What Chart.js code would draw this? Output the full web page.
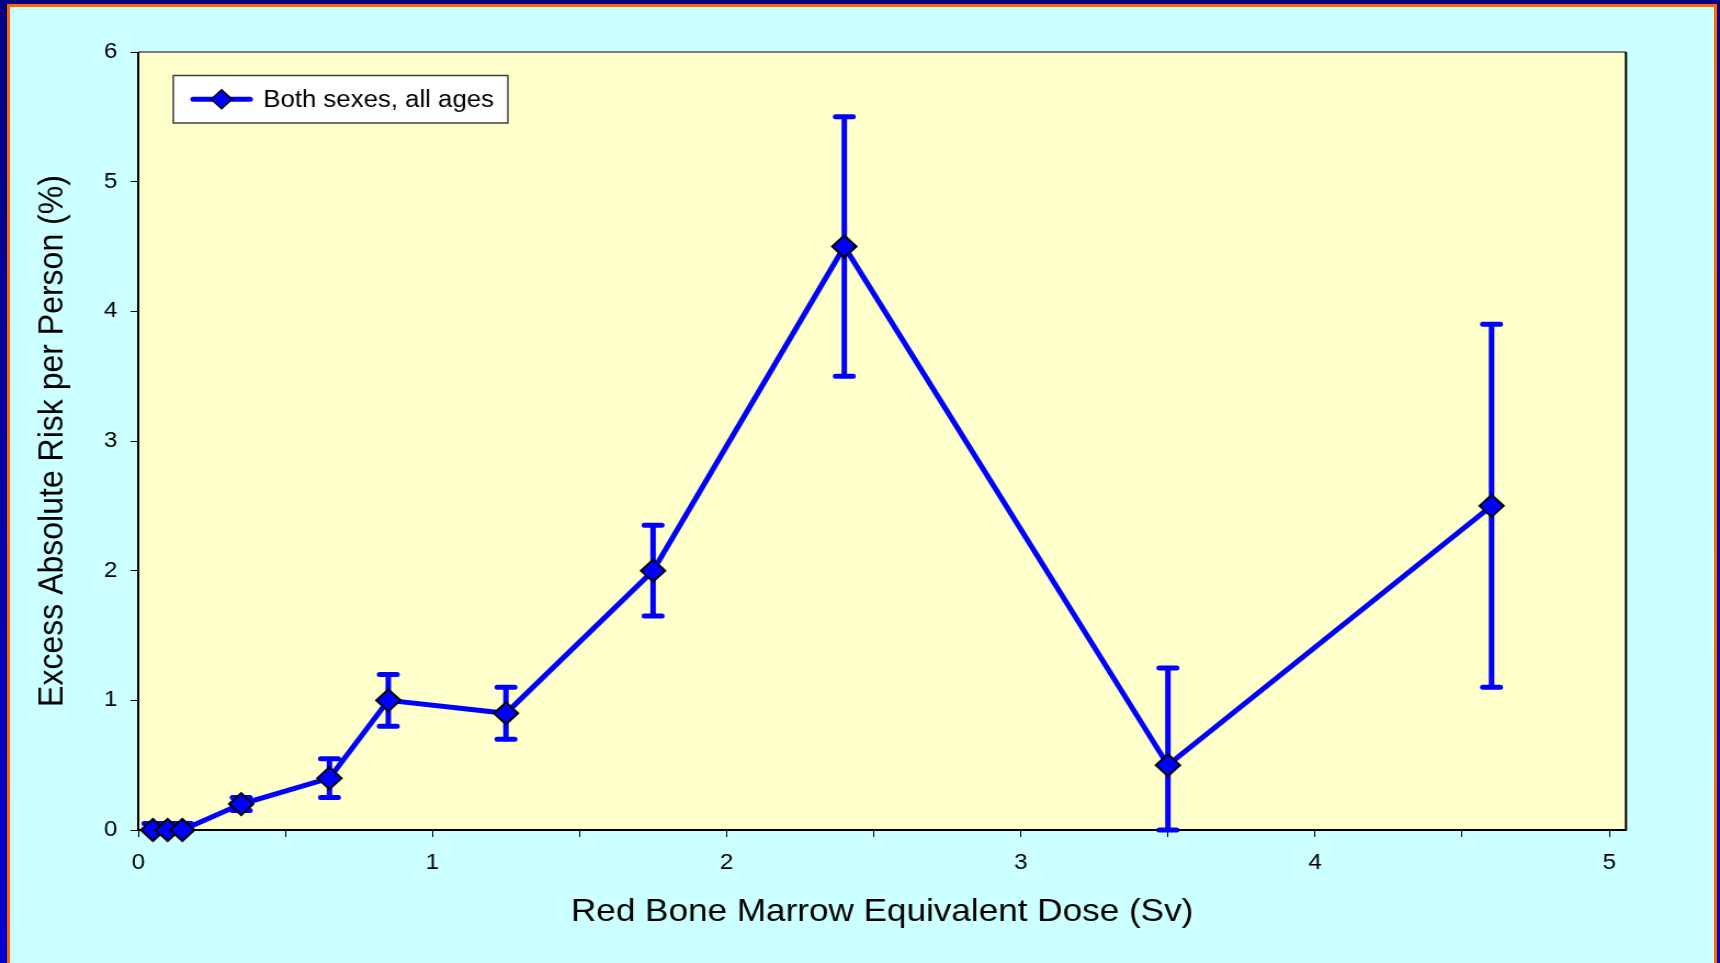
<!DOCTYPE html>
<html>
<head>
<meta charset="utf-8">
<script src="https://cdn.jsdelivr.net/npm/chart.js@4/dist/chart.umd.min.js"></script>
<style>
  html, body { margin: 0; padding: 0; width: 1720px; height: 963px; overflow: hidden; }
  #frame { position: absolute; left: 0; top: 0; width: 1720px; height: 963px;
           background: linear-gradient(to bottom, #000080, #0000CC); overflow: hidden; }
  #orange { position: absolute; left: 7px; top: 4px; width: 1710px; height: 1000px; background: #FF6600; }
  #cyan { position: absolute; left: 10px; top: 7px; width: 1704px; height: 1000px; background: #CCFFFF; }
</style>
</head>
<body>
<div id="frame"><div id="orange"></div><div id="cyan"></div></div>
<canvas id="c" width="1568" height="963" style="position:absolute;left:0;top:0;width:1720px;height:963px;"></canvas>
<script>
// ---- data ----
const seriesLabel = 'Both sexes, all ages';
const doses   = [0.05, 0.1, 0.15, 0.35, 0.65, 0.85, 1.25, 1.75, 2.4, 3.5, 4.6];
const risk    = [0, 0, 0, 0.2, 0.4, 1.0, 0.9, 2.0, 4.5, 0.5, 2.5];
const errLow  = [0, 0, 0, 0.15, 0.25, 0.8, 0.7, 1.65, 3.5, 0, 1.1];
const errHigh = [0.05, 0.05, 0.05, 0.25, 0.55, 1.2, 1.1, 2.35, 5.5, 1.25, 3.9];
const xTickValues = [0, 0.5, 1, 1.5, 2, 2.5, 3, 3.5, 4, 4.5, 5];
const xTickLabels = ['0', '', '1', '', '2', '', '3', '', '4', '', '5'];
const yTickValues = [0, 1, 2, 3, 4, 5, 6];
const xTitle = 'Red Bone Marrow Equivalent Dose (Sv)';
const yTitle = 'Excess Absolute Risk per Person (%)';

const FONT = '"Liberation Sans", Arial, sans-serif';
const BLUE = '#0000FF';

const plotBg = {
  id: 'plotBg',
  beforeDraw(chart) {
    const {ctx, chartArea: a} = chart;
    ctx.save();
    ctx.fillStyle = '#FFFFCC';
    ctx.fillRect(a.left, a.top, a.right - a.left, a.bottom - a.top);
    ctx.restore();
  },
  beforeDatasetsDraw(chart) {
    const {ctx, chartArea: a} = chart;
    ctx.save();
    ctx.strokeStyle = '#555555';
    ctx.lineWidth = 1.5;
    ctx.beginPath(); ctx.moveTo(a.left, a.top); ctx.lineTo(a.right, a.top); ctx.stroke();
    ctx.strokeStyle = '#000000';
    ctx.lineWidth = 2;
    ctx.beginPath();
    ctx.moveTo(a.left, a.top); ctx.lineTo(a.left, a.bottom);
    ctx.lineTo(a.right, a.bottom); ctx.lineTo(a.right, a.top);
    ctx.stroke();
    // error bars
    const xs = chart.scales.x, ys = chart.scales.y;
    ctx.strokeStyle = BLUE;
    ctx.lineWidth = 5;
    ctx.lineCap = 'round';
    const cap = 8;
    for (let i = 0; i < doses.length; i++) {
      const px = xs.getPixelForValue(doses[i]);
      const yl = ys.getPixelForValue(errLow[i]);
      const yh = ys.getPixelForValue(errHigh[i]);
      ctx.beginPath();
      ctx.moveTo(px, yl); ctx.lineTo(px, yh);
      ctx.moveTo(px - cap, yl); ctx.lineTo(px + cap, yl);
      ctx.moveTo(px - cap, yh); ctx.lineTo(px + cap, yh);
      ctx.stroke();
    }
    ctx.restore();
  },
  afterDraw(chart) {
    // legend box
    const {ctx} = chart;
    const ds = chart.data.datasets[0];
    const bx = 158, by = 75.5, bw = 305, bh = 47.5;
    ctx.save();
    ctx.fillStyle = '#FFFFFF';
    ctx.fillRect(bx, by, bw, bh);
    ctx.strokeStyle = '#404040';
    ctx.lineWidth = 1.5;
    ctx.strokeRect(bx, by, bw, bh);
    const cy = by + bh / 2;
    ctx.strokeStyle = ds.borderColor;
    ctx.lineWidth = 5;
    ctx.lineCap = 'round';
    ctx.beginPath(); ctx.moveTo(176, cy); ctx.lineTo(228, cy); ctx.stroke();
    ctx.fillStyle = ds.pointBackgroundColor;
    ctx.strokeStyle = ds.pointBorderColor;
    ctx.lineWidth = 1.5;
    const r = 9.5;
    ctx.beginPath();
    ctx.moveTo(202 - r, cy); ctx.lineTo(202, cy - r); ctx.lineTo(202 + r, cy); ctx.lineTo(202, cy + r);
    ctx.closePath(); ctx.fill(); ctx.stroke();
    ctx.fillStyle = '#000000';
    ctx.font = '23.5px ' + FONT;
    ctx.textBaseline = 'middle';
    ctx.textAlign = 'left';
    ctx.fillText(ds.label, 240, cy + 1);
    ctx.restore();
  }
};

new Chart(document.getElementById('c'), {
  type: 'line',
  data: {
    datasets: [{
      label: seriesLabel,
      data: doses.map((d, i) => ({x: d, y: risk[i]})),
      borderColor: BLUE,
      borderWidth: 5,
      tension: 0,
      pointStyle: 'rectRot',
      pointRadius: 11,
      pointHoverRadius: 11,
      pointBackgroundColor: BLUE,
      pointBorderColor: '#000000',
      pointBorderWidth: 2,
      clip: false
    }]
  },
  options: {
    responsive: false,
    devicePixelRatio: 1,
    animation: false,
    events: [],
    layout: { padding: { left: 0, top: 52, right: 85.7, bottom: 0 } },
    plugins: { legend: { display: false }, tooltip: { enabled: false } },
    scales: {
      x: {
        type: 'linear',
        min: 0, max: 5.057,
        afterBuildTicks: s => { s.ticks = xTickValues.map(v => ({value: v})); },
        afterFit: s => { s.height = 963 - 830; },
        ticks: {
          autoSkip: false, maxRotation: 0, padding: 13,
          color: '#000', font: { family: FONT, size: 22 },
          callback: (v, i) => xTickLabels[i]
        },
        grid: { display: true, drawOnChartArea: false, drawTicks: true, tickLength: 7, color: '#000', lineWidth: 1 },
        border: { display: false },
        title: { display: true, text: xTitle, color: '#000', font: { family: FONT, size: 32 }, padding: { top: 0, bottom: 32 } }
      },
      y: {
        type: 'linear',
        min: 0, max: 6,
        afterBuildTicks: s => { s.ticks = yTickValues.map(v => ({value: v})); },
        afterFit: s => { s.width = 126; },
        ticks: { padding: 12, color: '#000', font: { family: FONT, size: 22 }, callback: v => String(v) },
        grid: { display: true, drawOnChartArea: false, drawTicks: true, tickLength: 7, color: '#000', lineWidth: 1 },
        border: { display: false },
        title: { display: true, text: yTitle, color: '#000', font: { family: FONT, size: 32 }, padding: { top: 29, bottom: 0 } }
      }
    }
  },
  plugins: [plotBg]
});
</script>
</body>
</html>
